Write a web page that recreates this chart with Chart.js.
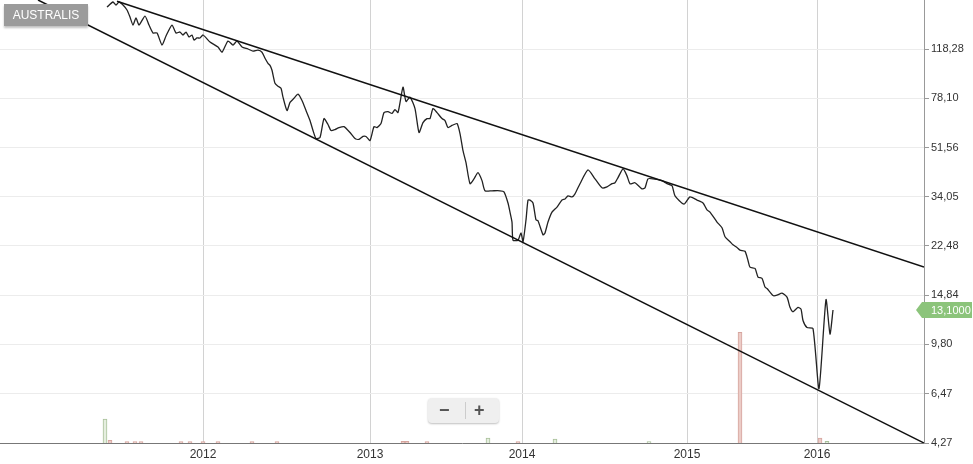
<!DOCTYPE html>
<html>
<head>
<meta charset="utf-8">
<script src="https://cdn.jsdelivr.net/npm/chart.js@4.4.1/dist/chart.umd.min.js"></script>
<style>
  html, body { margin: 0; padding: 0; background: #fff; }
  #wrap { position: relative; width: 973px; height: 464px; overflow: hidden; }
  #badge {
    position: absolute; left: 4px; top: 4px; width: 84px; height: 22px;
    background: #9b9b9b; color: #fff; font: 12px "Liberation Sans", Arial, sans-serif;
    line-height: 22px; text-align: center; box-shadow: 0 2px 2px rgba(0,0,0,0.25);
  }
  #zoomCtl {
    position: absolute; left: 428px; top: 398px; width: 71px; height: 25px;
    background: #efefef; border-radius: 4px; box-shadow: 0 1px 2px rgba(0,0,0,0.25);
    font: bold 18px "Liberation Sans", Arial, sans-serif; color: #555;
  }
  #zoomCtl span { position: absolute; top: 1px; line-height: 22px; }
  #zoomCtl .sep { position: absolute; left: 37px; top: 4px; width: 1px; height: 17px; background: #ccc; }
</style>
</head>
<body>
<div id="wrap">
  <canvas id="chart" width="973" height="464"></canvas>
  <div id="badge">AUSTRALIS</div>
  <div id="zoomCtl"><span style="left:11px">&minus;</span><div class="sep"></div><span style="left:46px">+</span></div>
</div>
<script>
// ============================
// Data
// ============================
const yearPos = [203, 370, 522, 687, 817];
const yearLabels = ["2012", "2013", "2014", "2015", "2016"];
const yTicks = [4.27, 6.47, 9.8, 14.84, 22.48, 34.05, 51.56, 78.1, 118.28];

const priceX = [
  107, 113, 116, 119, 123, 127, 130, 133, 136, 139, 145, 149, 153, 157, 162, 166, 172, 176, 180, 183,
  186, 189, 192, 194, 197, 200, 203, 210, 218, 222, 228, 233, 237, 242, 248, 253, 258,
  262, 265, 268, 270, 272, 275, 278, 281, 283, 287, 290, 294, 298, 302, 306, 310, 313, 316, 320,
  324, 328, 331, 335, 339, 344, 350, 355, 359, 363, 366, 370, 374, 377, 381, 384, 388, 392, 395, 398,
  403, 406, 410, 415, 419, 423, 427, 430, 433, 437, 442, 445, 448, 452, 457, 460, 463, 466, 470, 474,
  478, 482, 485, 492, 500, 504, 508, 510, 512, 513, 518, 521, 523, 526, 528,
  530, 533, 536, 538, 543, 545, 548, 552, 557, 562, 565, 568, 572, 575, 580, 588, 595, 602, 607, 612,
  615, 618, 623, 627, 630, 635, 642, 645, 648, 653, 662, 667, 672, 675, 684, 690, 697,
  703, 707, 710, 717, 722, 725, 730, 733, 737, 740, 745, 748, 750, 755, 758, 762, 765, 767, 773, 777,
  782, 787, 790, 793, 798, 801, 803, 807, 813, 819, 826, 830, 833
];
const priceY = [
  168.5, 175.8, 171.4, 175.8, 171.4, 164.3, 154.9, 144.8, 153.6, 144.8, 156.2, 144.8, 135.4, 135.4, 122.3, 132.0, 144.8, 135.4, 136.5, 133.1,
  136.5, 130.9, 133.1, 127.6, 129.8, 129.8, 133.1, 125.5, 120.3, 115.1, 126.5, 122.3, 126.5, 120.3, 118.3, 116.1, 117.1,
  115.1, 109.4, 104.9, 103.1, 98.9, 88.6, 86.4, 85.0, 78.8, 70.4, 75.4, 78.1, 80.8, 76.6, 70.4, 64.7, 59.5, 55.6, 56.1,
  65.8, 62.6, 59.5, 60.0, 61.0, 61.5, 58.5, 55.6, 55.2, 56.6, 56.6, 54.7, 61.5, 61.0, 63.1, 69.2, 69.8, 68.7, 71.0, 69.2,
  85.7, 76.0, 78.8, 71.6, 58.5, 63.6, 65.8, 65.8, 71.6, 69.2, 65.8, 64.7, 61.0, 62.1, 63.1, 58.0, 50.2, 45.4, 38.0, 39.6,
  41.7, 39.0, 35.8, 35.8, 35.8, 35.5, 32.3, 29.9, 27.5, 23.6, 23.6, 25.1, 23.3, 28.0, 33.1,
  33.1, 32.3, 28.0, 27.8, 24.7, 25.1, 27.5, 29.9, 31.2, 33.1, 33.4, 34.3, 34.0, 34.9, 38.0, 42.7, 39.6, 36.7, 37.0, 38.0,
  38.3, 40.0, 43.1, 40.6, 38.0, 38.3, 36.4, 36.7, 39.6, 39.6, 39.0, 38.0, 37.4, 34.3, 32.0, 34.0, 33.1,
  32.3, 30.5, 29.9, 27.5, 26.2, 24.3, 23.3, 22.7, 22.2, 21.7, 21.5, 19.9, 18.8, 18.6, 17.3, 17.1, 15.9, 15.7, 14.8, 14.84,
  15.1, 14.6, 13.4, 12.9, 13.4, 13.2, 12.0, 11.3, 11.2, 6.75, 14.3, 10.7, 13.1
];

// trend lines (two points each)
const upperTrendX = [117, 924];
const upperTrendY = [177, 18.83];
const lowerTrendX = [38, 924];
const lowerTrendY = [178.8, 4.27];

// volume
const volUpX = [105, 488, 555, 649, 827];
const volUpV = [21.7, 4.5, 3.6, 1.2, 1.4];
const volDownX = [110, 127, 135, 141, 181, 190, 203, 218, 252, 277, 403, 407, 427, 518, 740, 820];
const volDownV = [2.5, 1.2, 1.2, 1.2, 1.2, 1.2, 1.2, 1.2, 1.2, 1.2, 1.4, 1.4, 1.2, 1.2, 100, 4.5];

const lastPrice = 13.1;

// ============================
// Helpers
// ============================
function toPoints(xs, ys) {
  return xs.map((x, i) => ({ x: x, y: ys[i] }));
}

function fmt(v, d) {
  return v.toFixed(d).replace(".", ",");
}

// green last-price tag on the right axis
const priceTag = {
  id: "priceTag",
  afterDraw(chart) {
    const ctx = chart.ctx;
    const y = Math.round(chart.scales.y.getPixelForValue(lastPrice));
    const x0 = chart.chartArea.right - 8;
    ctx.save();
    ctx.fillStyle = "#8cc47b";
    ctx.beginPath();
    ctx.moveTo(x0, y);
    ctx.lineTo(x0 + 6, y - 8);
    ctx.lineTo(972, y - 8);
    ctx.lineTo(972, y + 8);
    ctx.lineTo(x0 + 6, y + 8);
    ctx.closePath();
    ctx.fill();
    ctx.fillStyle = "#fff";
    ctx.font = '11px "Liberation Sans", Arial, sans-serif';
    ctx.textBaseline = "middle";
    ctx.fillText(fmt(lastPrice, 4), x0 + 15, y + 1);
    ctx.restore();
  },
};

// ============================
// Chart
// ============================
Chart.defaults.font.family = '"Liberation Sans", Arial, sans-serif';
Chart.defaults.color = "#333";

new Chart(document.getElementById("chart").getContext("2d"), {
  type: "line",
  data: {
    datasets: [
      {
        label: "Price",
        data: toPoints(priceX, priceY),
        borderColor: "#222",
        borderWidth: 1.3,
        pointRadius: 0,
        tension: 0.2,
        order: 1,
      },
      {
        label: "Upper",
        data: toPoints(upperTrendX, upperTrendY),
        borderColor: "#111",
        borderWidth: 1.5,
        pointRadius: 0,
        order: 0,
      },
      {
        label: "Lower",
        data: toPoints(lowerTrendX, lowerTrendY),
        borderColor: "#111",
        borderWidth: 1.5,
        pointRadius: 0,
        order: 0,
      },
      {
        type: "bar",
        label: "VolUp",
        data: toPoints(volUpX, volUpV),
        yAxisID: "yVol",
        backgroundColor: "#e5eedf",
        borderColor: "#a8c09a",
        borderWidth: 1,
        barThickness: 4,
        grouped: false,
        order: 5,
      },
      {
        type: "bar",
        label: "VolDown",
        data: toPoints(volDownX, volDownV),
        yAxisID: "yVol",
        backgroundColor: "#ecccc7",
        borderColor: "#d6a59e",
        borderWidth: 1,
        barThickness: 4,
        grouped: false,
        order: 5,
      },
    ],
  },
  options: {
    responsive: false,
    animation: false,
    layout: { padding: 0 },
    plugins: { legend: { display: false }, tooltip: { enabled: false } },
    scales: {
      x: {
        type: "linear",
        min: 0,
        max: 924,
        offset: false,
        afterBuildTicks: (scale) => {
          scale.ticks = yearPos.map((v) => ({ value: v }));
        },
        afterFit: (scale) => {
          scale.height = 21;
          scale.paddingLeft = 0;
          scale.paddingRight = 0;
        },
        ticks: {
          autoSkip: false,
          maxRotation: 0,
          padding: 4,
          font: { size: 12 },
          callback: (v) => yearLabels[yearPos.indexOf(v)],
        },
        grid: { color: "#d2d2d2", drawTicks: false, offset: false },
        border: { color: "#777" },
      },
      y: {
        type: "logarithmic",
        position: "right",
        min: 4.27,
        max: 178.8,
        afterBuildTicks: (scale) => {
          scale.ticks = yTicks.map((v) => ({ value: v }));
        },
        afterFit: (scale) => {
          scale.width = 49;
          scale.paddingTop = 0;
          scale.paddingBottom = 0;
        },
        ticks: {
          autoSkip: false,
          padding: 2,
          font: { size: 11 },
          callback: (v) => fmt(v, 2),
        },
        grid: { color: "#ececec", tickColor: "#999", tickLength: 5 },
        border: { color: "#999" },
      },
      yVol: {
        type: "linear",
        display: false,
        min: 0,
        max: 400,
      },
    },
  },
  plugins: [priceTag],
});
</script>
</body>
</html>
